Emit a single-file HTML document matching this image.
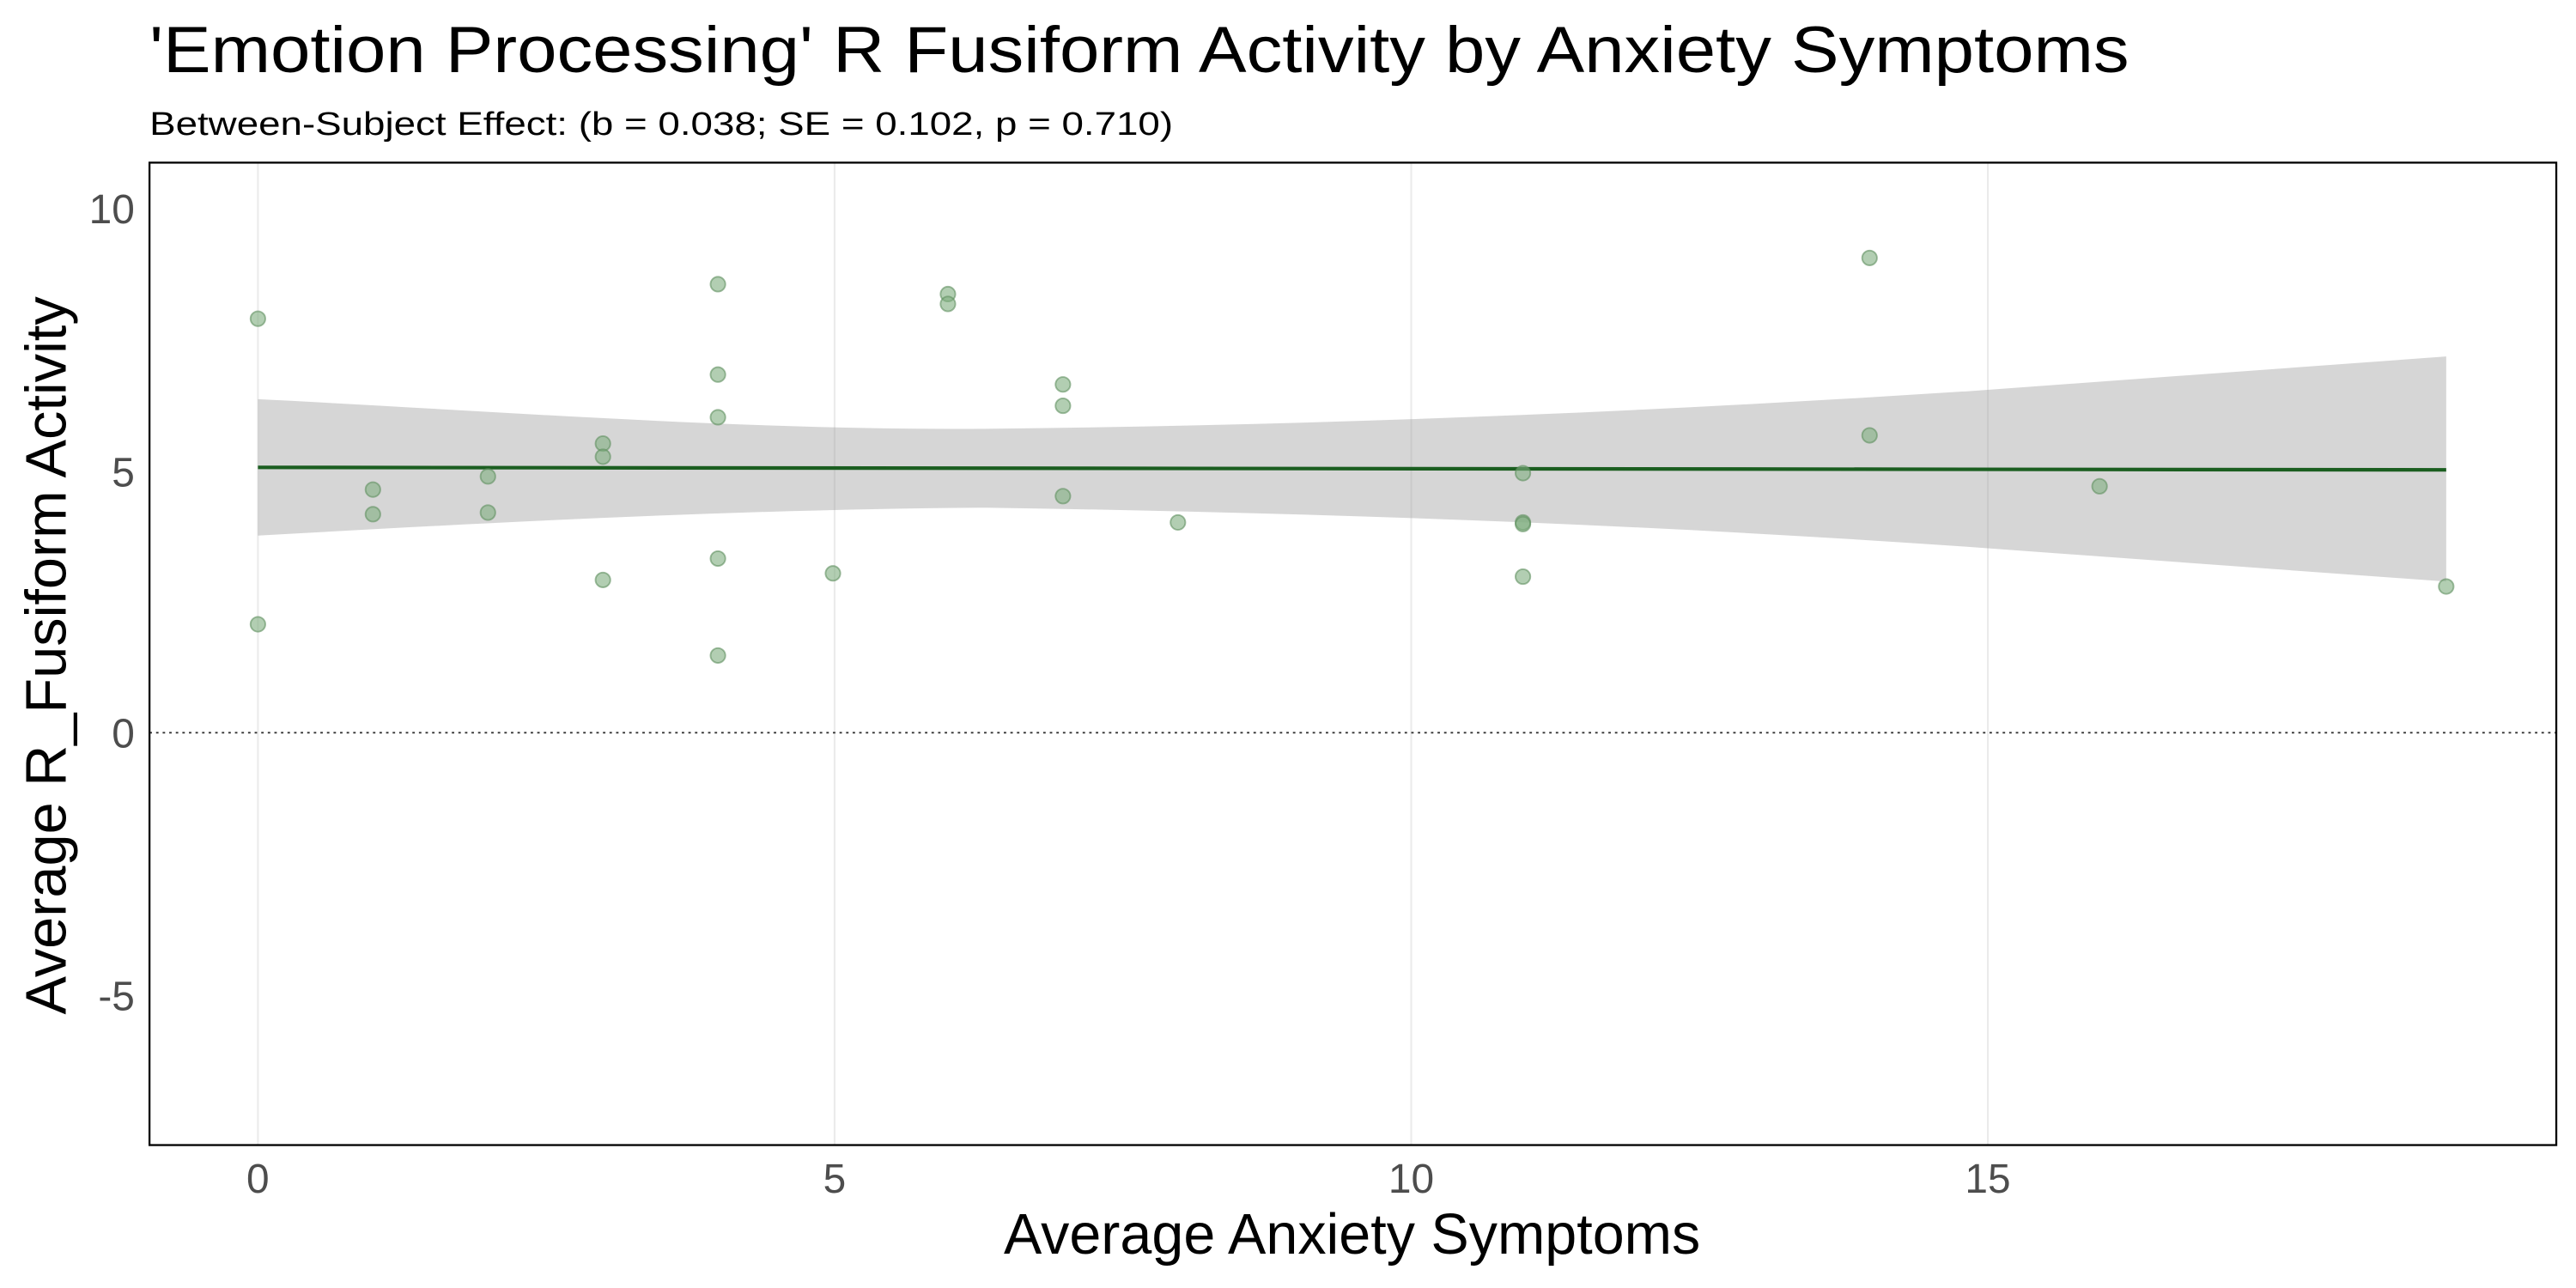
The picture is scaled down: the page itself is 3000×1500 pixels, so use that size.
<!DOCTYPE html>
<html><head><meta charset="utf-8"><style>html,body{margin:0;padding:0;background:#fff}svg{display:block}</style></head>
<body>
<svg width="3000" height="1500" viewBox="0 0 1568 784" xmlns="http://www.w3.org/2000/svg" font-family="Liberation Sans, Arial, sans-serif">
<rect width="1568" height="784" fill="#fff"/>
<text x="91" y="44" font-size="40" textLength="1205" lengthAdjust="spacingAndGlyphs">'Emotion Processing' R Fusiform Activity by Anxiety Symptoms</text>
<text x="91" y="82" font-size="20" textLength="623" lengthAdjust="spacingAndGlyphs">Between-Subject Effect: (b = 0.038; SE = 0.102, p = 0.710)</text>
<g stroke="#ebebeb" stroke-width="1.1">
<line x1="157" y1="99" x2="157" y2="697"/><line x1="508" y1="99" x2="508" y2="697"/><line x1="859" y1="99" x2="859" y2="697"/><line x1="1210" y1="99" x2="1210" y2="697"/>
</g>
<line x1="91" y1="446" x2="1556" y2="446" stroke="#333" stroke-width="1" stroke-dasharray="1.5,2.5"/>
<path d="M157,243 C300,250 450,262 600,261 C800,259 1000,251 1200,238 L1489,217 L1489,354 L1200,333 C1000,319 800,312 600,309 C450,310 300,318 157,326 Z" fill="#999" fill-opacity="0.4"/>
<line x1="157" y1="284.5" x2="1489" y2="286" stroke="#1b5e20" stroke-width="2.2"/>
<g fill="#7fae7f" fill-opacity="0.6" stroke="#5f8f5f" stroke-opacity="0.6" stroke-width="1">
<circle cx="157" cy="194" r="4.5"/><circle cx="157" cy="380" r="4.5"/><circle cx="227" cy="298" r="4.5"/><circle cx="227" cy="313" r="4.5"/><circle cx="297" cy="290" r="4.5"/><circle cx="297" cy="312" r="4.5"/><circle cx="367" cy="270" r="4.5"/><circle cx="367" cy="278" r="4.5"/><circle cx="367" cy="353" r="4.5"/><circle cx="437" cy="173" r="4.5"/><circle cx="437" cy="228" r="4.5"/><circle cx="437" cy="254" r="4.5"/><circle cx="437" cy="340" r="4.5"/><circle cx="437" cy="399" r="4.5"/><circle cx="507" cy="349" r="4.5"/><circle cx="577" cy="179" r="4.5"/><circle cx="577" cy="185" r="4.5"/><circle cx="647" cy="234" r="4.5"/><circle cx="647" cy="247" r="4.5"/><circle cx="647" cy="302" r="4.5"/><circle cx="717" cy="318" r="4.5"/><circle cx="927" cy="288" r="4.5"/><circle cx="927" cy="318" r="4.5"/><circle cx="927" cy="319" r="4.5"/><circle cx="927" cy="351" r="4.5"/><circle cx="1138" cy="157" r="4.5"/><circle cx="1138" cy="265" r="4.5"/><circle cx="1278" cy="296" r="4.5"/><circle cx="1489" cy="357" r="4.5"/>
</g>
<rect x="91" y="99" width="1465" height="598" fill="none" stroke="#000" stroke-width="1.2"/>
<g font-size="25" fill="#4d4d4d" text-anchor="end">
<text x="82" y="136">10</text><text x="82" y="296">5</text><text x="82" y="455">0</text><text x="82" y="615">-5</text>
</g>
<g font-size="25" fill="#4d4d4d" text-anchor="middle">
<text x="157" y="726">0</text><text x="508" y="726">5</text><text x="859" y="726">10</text><text x="1210" y="726">15</text>
</g>
<text x="823" y="763" font-size="35" text-anchor="middle" textLength="424" lengthAdjust="spacingAndGlyphs">Average Anxiety Symptoms</text>
<text transform="translate(40,399) rotate(-90)" font-size="35" text-anchor="middle" textLength="437" lengthAdjust="spacingAndGlyphs">Average R_Fusiform Activity</text>
</svg>
</body></html>
